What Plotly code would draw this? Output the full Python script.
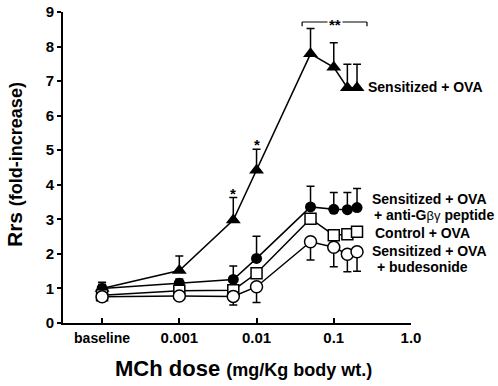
import numpy as np
import plotly.graph_objects as go

# ---- data ----
dose_labels = ["baseline", "0.001", "0.005", "0.01", "0.05", "0.1", "0.15", "0.2"]
dose_values = [1e-4, 0.001, 0.005, 0.01, 0.05, 0.1, 0.15, 0.2]   # baseline drawn one decade below 0.001

sens_ova = [1.0, 1.52, 2.98, 4.42, 7.79, 7.40, 6.81, 6.81]
sens_ova_err = [0.18, 0.42, 0.65, 0.61, 0.73, 0.71, 0.68, 0.68]

sens_gby = [1.0, 1.15, 1.26, 1.87, 3.36, 3.29, 3.28, 3.34]
sens_gby_err = [0.12, 0.12, 0.39, 0.64, 0.60, 0.49, 0.50, 0.55]

control_ova = [0.80, 0.93, 0.95, 1.44, 3.02, 2.54, 2.57, 2.64]

sens_bud = [0.76, 0.78, 0.77, 1.05, 2.35, 2.19, 1.99, 2.06]
sens_bud_err = [0.10, 0.12, 0.25, 0.46, 0.53, 0.56, 0.51, 0.56]

tick_vals = [1e-4, 1e-3, 1e-2, 1e-1, 1.0]
tick_text = ["<span style='font-size:14px'>baseline</span>", "0.001", "0.01", "0.1", "1.0"]

x = np.log10(dose_values)
tx = np.log10(tick_vals)
zeros = [0] * len(x)

FONT = "Liberation Sans, Arial, sans-serif"
line = dict(color="black", width=1.5)

W, H = 498, 386
# plot-area edges in page pixels (reference)
PL, PR, PT, PB = 63, 411, 12, 323
L, R, T, B = PL, W - PR, PT, H - PB
pw, ph = PR - PL, PB - PT


def paper(px, py):
    return (px - PL) / pw, 1 - (py - PT) / ph


fig = go.Figure()

fig.add_trace(go.Scatter(
    x=x, y=sens_ova, mode="lines+markers", line=line,
    marker=dict(symbol="triangle-up", size=13, color="black"),
    error_y=dict(type="data", symmetric=False, array=sens_ova_err, arrayminus=zeros,
                 color="black", thickness=1.5, width=4),
    showlegend=False))

fig.add_trace(go.Scatter(
    x=x, y=sens_gby, mode="lines+markers", line=line,
    marker=dict(symbol="circle", size=11, color="black"),
    error_y=dict(type="data", symmetric=False, array=sens_gby_err, arrayminus=zeros,
                 color="black", thickness=1.5, width=4),
    showlegend=False))

fig.add_trace(go.Scatter(
    x=x, y=control_ova, mode="lines+markers", line=line,
    marker=dict(symbol="square", size=11, color="white", line=dict(color="black", width=1.5)),
    showlegend=False))

fig.add_trace(go.Scatter(
    x=x, y=sens_bud, mode="lines+markers", line=line,
    marker=dict(symbol="circle", size=12, color="white", line=dict(color="black", width=1.5)),
    error_y=dict(type="data", symmetric=False, array=zeros, arrayminus=sens_bud_err,
                 color="black", thickness=1.5, width=4),
    showlegend=False))

annotations = []
# significance stars
for i in (2, 3):
    annotations.append(dict(x=x[i], y=sens_ova[i] + sens_ova_err[i], text="*", showarrow=False,
                            yanchor="bottom", yshift=-6,
                            font=dict(family=FONT, size=15, color="black", weight="bold")))
# bracket with **
bx0, bx1, by = -1.41, -0.57, 8.71
fig.add_shape(type="line", x0=bx0, x1=bx1, y0=by, y1=by, line=dict(color="black", width=1.2))
fig.add_shape(type="line", x0=bx0, x1=bx0, y0=by, y1=by - 0.12, line=dict(color="black", width=1.2))
fig.add_shape(type="line", x0=bx1, x1=bx1, y0=by, y1=by - 0.12, line=dict(color="black", width=1.2))
annotations.append(dict(x=(bx0 + bx1) / 2, y=by, text="**", showarrow=False, bgcolor="white",
                        yshift=-2, font=dict(family=FONT, size=15, color="black", weight="bold")))

# series labels (positions in reference page pixels)
lab_font = dict(family=FONT, size=14, color="black", weight="bold")
labels = [
    (366, 87, "Sensitized + OVA"),
    (370, 199, "Sensitized + OVA"),
    (372, 215, "+ anti-G<span style='font-weight:normal;font-size:13px'>\u03b2\u03b3</span> peptide"),
    (373, 233, "Control + OVA"),
    (370, 251, "Sensitized + OVA"),
    (375, 267, "+ budesonide"),
]
for px, py, txt in labels:
    ax_, ay_ = paper(px, py)
    annotations.append(dict(xref="paper", yref="paper", x=ax_, y=ay_,
                            text=txt, showarrow=False, xanchor="left", yanchor="middle", font=lab_font))

# axis titles as annotations
tx_, ty_ = paper(243, 368)
annotations.append(dict(xref="paper", yref="paper", x=tx_, y=ty_, showarrow=False,
                        xanchor="center", yanchor="middle",
                        text="MCh dose <span style='font-size:18px'>(mg/Kg body wt.)</span>",
                        font=dict(family=FONT, size=22, color="black", weight="bold")))
yx_, yy_ = paper(14, 165)
annotations.append(dict(xref="paper", yref="paper", x=yx_, y=yy_, showarrow=False,
                        xanchor="center", yanchor="middle", textangle=-90,
                        text="Rrs <span style='font-size:18px'>(fold-increase)</span>",
                        font=dict(family=FONT, size=21, color="black", weight="bold")))

fig.update_layout(
    width=W, height=H,
    margin=dict(l=L, r=R, t=T, b=B, pad=0),
    paper_bgcolor="white", plot_bgcolor="white",
    annotations=annotations,
    font=dict(family=FONT, color="black"),
    xaxis=dict(
        range=[-4.506, 0], tickvals=tx, ticktext=tick_text, automargin=False,
        ticklabeloverflow="allow",
        showgrid=False, zeroline=False, showline=True, linecolor="black", linewidth=2,
        ticks="inside", ticklen=5, tickwidth=1.5, tickcolor="black",
        tickfont=dict(family=FONT, size=15, color="black", weight="bold"),
    ),
    yaxis=dict(
        range=[0, 9], tickvals=list(range(10)), automargin=False,
        ticklabeloverflow="allow",
        showgrid=False, zeroline=False, showline=True, linecolor="black", linewidth=2,
        ticks="outside", ticklen=4, tickwidth=1.5, tickcolor="black",
        tickfont=dict(family=FONT, size=15, color="black", weight="bold"),
    ),
)

# remove the browser's default 8px page margin so the figure sits at the window origin
fig.write_html("out.html", config={"displayModeBar": False},
               post_script="document.body.style.margin='0';")
